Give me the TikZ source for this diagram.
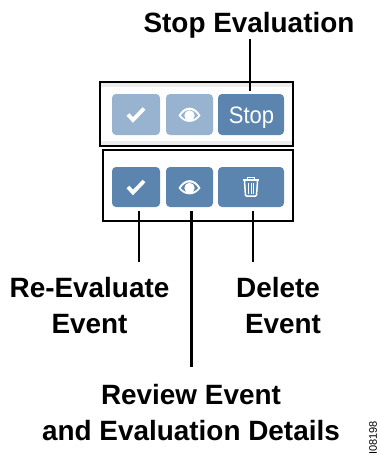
\documentclass[tikz,border=0pt]{standalone}
\usepackage{fontspec}
\setmainfont{Liberation Sans}
\definecolor{btndark}{HTML}{5B84AE}
\definecolor{btnfade}{HTML}{97B3CF}
\definecolor{bandgray}{HTML}{EDEDED}
\tikzset{
	every button/.style={rounded corners=4pt, minimum height=41pt, inner sep=0pt},
	frame/.style={draw=black, line width=1.6pt, inner sep=0pt},
	leader/.style={draw=black, line width=2.5pt},
	callout/.style={font=\bfseries\fontsize{27.9}{36}\selectfont, align=center, text=black, inner sep=1pt},
	glyph/.style={white, line width=3.8pt, line join=miter}
}
\newcommand{\checkicon}[1]{\draw [glyph, shift={(#1)}] (-8,0) -- (-3,5.5) -- (8,-6);}
\newcommand{\eyeicon}[1]{
	\fill [white, even odd rule, shift={(#1)}] (-11,1) .. controls (-5,-9.5) and (5,-9.5) .. (11,1) .. controls (5,9.5) and (-5,9.5) .. (-11,1) (-8.8,1) .. controls (-4,7) and (4,7) .. (8.8,1) .. controls (4,-6.5) and (-4,-6.5) .. (-8.8,1);
	\fill [white, shift={(#1)}] (0,1) circle (5.2);
}
\begin{document}
\begin{tikzpicture}[x=1pt, y=-1pt]
	\useasboundingbox (0,0) rectangle (380,459);
	
	\node [frame, minimum width=193pt, minimum height=64pt] (top-box) at (196.5,114) {};
	\node [frame, minimum width=190pt, minimum height=71pt] (bottom-box) at (198,185.5) {};
	
	\fill [bandgray] (101,83) rectangle (292,87);
	\fill [bandgray] (101,141) rectangle (292,145);
	
	\foreach \m/\x/\w/\c in {check/136/48/btnfade, eye/189.5/47/btnfade, stop/251/66/btndark}
	\node [every button, fill=\c, minimum width=\w pt] (top-\m) at (\x,114.5) {};
	
	\foreach \m/\x/\w in {check/136/48, eye/189.5/47, trash/251/66}
	\node [every button, fill=btndark, minimum width=\w pt, minimum height=40pt] (bottom-\m) at (\x,187) {};
	
	\node [text=white, font=\fontsize{22}{24}\selectfont, inner sep=0pt, anchor=base, yscale=1.08] (stop-text) at (251.5,123) {Stop};
	
	\checkicon{top-check}
	\checkicon{bottom-check}
	\eyeicon{top-eye}
	\eyeicon{bottom-eye}
	
	% trash can
	\begin{scope}[shift={(bottom-trash)}, scale=1.3]
		\draw [white, line width=1.6pt] (-6.5,-5.5) -- (6.5,-5.5);
		\draw [white, line width=1.3pt] (-2.5,-5.5) -- (-2.5,-7.5) -- (2.5,-7.5) -- (2.5,-5.5);
		\draw [white, line width=1.5pt, rounded corners=1pt] (-5,-4.5) -- (-4.2,7) -- (4.2,7) -- (5,-4.5);
		\foreach \x in {-2,0,2}
		\draw [white, line width=0.8pt] (\x,-3) -- (\x,5);
	\end{scope}
	
	\node [callout, anchor=base] (stop-label) at (249,32) {Stop Evaluation};
	\node [callout, anchor=north] (reeval-label) at (89.5,276.5) {Re-Evaluate\\Event};
	\node [callout, anchor=north] (delete-label) at (283,276.5) {Delete\hspace*{10pt}\\Event};
	\node [callout, anchor=north] (review-label) at (191,383.5) {Review Event\\and Evaluation Details};
	\node [font=\fontsize{11}{13}\selectfont, rotate=90, inner sep=0pt] (fig-id) at (373,438) {I08198};
	
	\coordinate (stop-end) at (250,91);
	\coordinate (reeval-end) at (139,211);
	\coordinate (review-end) at (191.5,211);
	\coordinate (delete-end) at (253,211);
	\coordinate (reeval-foot) at (139,262);
	\coordinate (review-foot) at (191.5,367);
	\coordinate (delete-foot) at (253,262);
	
	\draw [leader] (stop-label.south -| stop-end) -- (stop-end);
	\draw [leader] (reeval-end) -- (reeval-foot);
	\draw [leader] (review-end) -- (review-foot);
	\draw [leader] (delete-end) -- (delete-foot);
\end{tikzpicture}
\end{document}
